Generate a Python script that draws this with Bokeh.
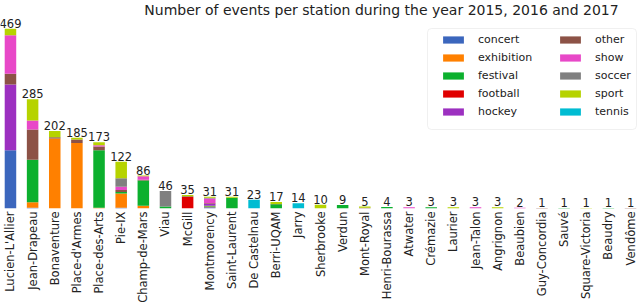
from math import pi
from bokeh.plotting import figure
from bokeh.models import (ColumnDataSource, Range1d, FixedTicker, LabelSet, Label,
                          Legend, LegendItem, BoxAnnotation)
from bokeh.core.properties import value
from bokeh.embed import file_html
from bokeh.resources import INLINE

stations = ["Lucien-L'Allier", "Jean-Drapeau", "Bonaventure", "Place-d'Armes", "Place-des-Arts",
            "Pie-IX", "Champ-de-Mars", "Viau", "McGill", "Montmorency", "Saint-Laurent",
            "De Castelnau", "Berri-UQAM", "Jarry", "Sherbrooke", "Verdun", "Mont-Royal",
            "Henri-Bourassa", "Atwater", "Crémazie", "Laurier", "Jean-Talon", "Angrignon",
            "Beaubien", "Guy-Concordia", "Sauvé", "Square-Victoria", "Beaudry", "Vendôme"]

categories = ["concert", "exhibition", "festival", "football", "hockey",
              "other", "show", "soccer", "sport", "tennis"]

#             LL   JD   Bon  PdA  PdA  PIX CdM Via McG Mtm StL DeC BUQ Jar She Ver MtR HB Atw Cré Lau JT Ang Bea GC Sau SV Bdy Ven
concert    = [152,   2,   0,   0,   0,  2,  0,  0,  0,  3,  0,  0,  0,  0,  0,  0,  0, 0, 0, 0, 0, 0, 0, 0, 0, 0, 0, 0, 0]
exhibition = [0,    14, 183, 171,   2, 37,  7,  0,  0,  2,  0,  0,  0,  0,  0,  0,  0, 0, 0, 0, 0, 0, 0, 0, 0, 0, 0, 0, 0]
festival   = [0,   111,   0,   0, 150,  4, 66,  5,  0,  2, 28,  0, 11,  0,  0,  9,  0, 4, 0, 3, 0, 0, 0, 0, 0, 1, 0, 1, 0]
football   = [0,     0,   0,   0,   0,  0,  0,  0, 30,  0,  0,  0,  0,  0,  0,  0,  0, 0, 0, 0, 0, 0, 0, 0, 0, 0, 0, 0, 0]
hockey     = [172,   0,   0,   0,   0,  0,  0,  0,  0,  5,  0,  0,  0,  0,  0,  0,  0, 0, 0, 0, 0, 0, 0, 0, 0, 0, 0, 0, 0]
other      = [28,   79,   3,   9,  10,  5,  2,  0,  2,  2,  0,  0,  1,  0,  0,  0,  2, 0, 0, 0, 0, 0, 0, 0, 1, 0, 0, 0, 1]
show       = [100,  24,   0,   0,   3,  9,  9,  0,  0, 12,  0,  0,  0,  0,  0,  0,  0, 0, 3, 0, 0, 3, 0, 2, 0, 0, 0, 0, 0]
soccer     = [0,     0,   0,   0,   0, 22,  0, 41,  0,  2,  0,  0,  0,  0,  0,  0,  0, 0, 0, 0, 0, 0, 0, 0, 0, 0, 0, 0, 0]
sport      = [17,   55,  16,   5,   8, 43,  2,  0,  3,  3,  3,  0,  5,  0, 10,  0,  3, 0, 0, 0, 3, 0, 3, 0, 0, 0, 1, 0, 0]
tennis     = [0,     0,   0,   0,   0,  0,  0,  0,  0,  0,  0, 23,  0, 14,  0,  0,  0, 0, 0, 0, 0, 0, 0, 0, 0, 0, 0, 0, 0]

colors = ["#3b66bd", "#ff8000", "#0cb02e", "#e00000", "#9c30c0",
          "#8c5246", "#e848c8", "#808080", "#b6d300", "#00bcd2"]

series = [concert, exhibition, festival, football, hockey, other, show, soccer, sport, tennis]
data = {"x": list(range(len(stations)))}
for name, vals in zip(categories, series):
    data[name] = vals
totals = [sum(col) for col in zip(*series)]
data["total"] = totals
data["label"] = [str(t) for t in totals]
source = ColumnDataSource(data)

FONT = "DejaVu Sans"
TXT = "#222222"
FRAME_H = 206  # expected frame height in px (for screen-unit annotations)

p = figure(width=640, height=305, output_backend="svg", toolbar_location=None,
           x_range=Range1d(-0.45, len(stations) - 0.55), y_range=Range1d(0, 543),
           min_border_top=0, min_border_left=0, min_border_right=0, min_border_bottom=3,
           title=None)

renderers = p.vbar_stack(categories, x="x", width=0.52, fill_color=colors, line_color=None,
                         source=source)

labels = LabelSet(x="x", y="total", text="label", source=source, text_align="center",
                  text_baseline="bottom", y_offset=1, text_font_size=value("11.5px"),
                  text_font=value(FONT), text_color=TXT)
p.add_layout(labels)

title = Label(x=381, y=FRAME_H + 1, x_units="screen", y_units="screen",
              text="Number of events per station during the year 2015, 2016 and 2017",
              text_align="center", text_baseline="top", text_font_size="14px",
              text_font=FONT, text_color=TXT)
p.add_layout(title)

p.yaxis.visible = False
p.xaxis.ticker = FixedTicker(ticks=list(range(len(stations))))
p.xaxis.major_label_overrides = {i: s for i, s in enumerate(stations)}
p.xaxis.major_label_orientation = pi / 2
p.xaxis.major_label_text_font_size = "11.5px"
p.xaxis.major_label_text_font = FONT
p.xaxis.major_label_text_color = TXT
p.xaxis.major_label_standoff = 3
p.xaxis.axis_line_color = None
p.xaxis.major_tick_line_color = None
p.xaxis.minor_tick_line_color = None
p.xaxis.major_tick_out = 0
p.xaxis.major_tick_in = 0
p.xaxis.minor_tick_out = 0
p.xaxis.minor_tick_in = 0
p.xaxis.axis_label_standoff = 0
p.grid.visible = False
p.outline_line_color = None

box = BoxAnnotation(left=427, right=636, top=FRAME_H - 26, bottom=FRAME_H - 127,
                    left_units="screen", right_units="screen",
                    top_units="screen", bottom_units="screen",
                    fill_color="white", fill_alpha=0.8, line_color="#cccccc",
                    line_width=1, border_radius=4)
p.add_layout(box)


def make_legend(items, x):
    lg = Legend(items=items, location=(x, FRAME_H - 116))
    lg.glyph_width = 26
    lg.glyph_height = 9
    lg.label_height = 14
    lg.spacing = 4
    lg.padding = 0
    lg.margin = 0
    lg.label_standoff = 12
    lg.label_text_font_size = "11px"
    lg.label_text_font = FONT
    lg.label_text_color = TXT
    lg.border_line_color = None
    lg.background_fill_alpha = 0
    return lg


itemsA = [LegendItem(label=c, renderers=[r]) for c, r in zip(categories[:5], renderers[:5])]
itemsB = [LegendItem(label=c, renderers=[r]) for c, r in zip(categories[5:], renderers[5:])]
p.add_layout(make_legend(itemsA, 440))
p.add_layout(make_legend(itemsB, 557))

open("out.html", "w").write(file_html(p, INLINE))
